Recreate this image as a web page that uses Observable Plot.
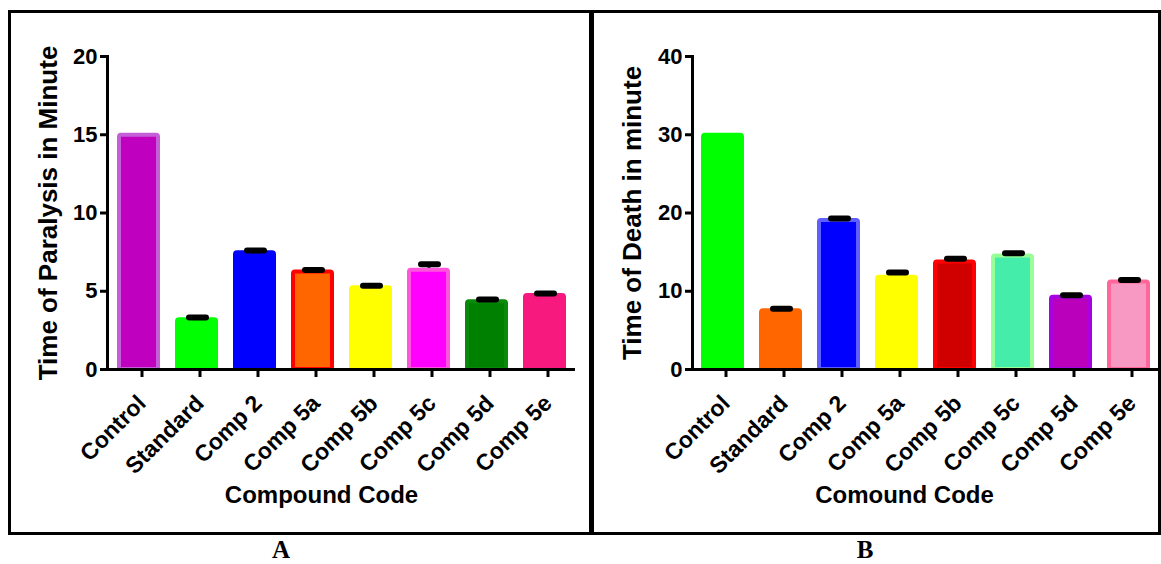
<!DOCTYPE html>
<html><head><meta charset="utf-8">
<script src="https://cdn.jsdelivr.net/npm/d3@7"></script>
<script src="https://cdn.jsdelivr.net/npm/@observablehq/plot@0.6"></script>
<style>
body{margin:0;background:#fff;}
#root{position:relative;width:1161px;height:564px;overflow:hidden;}
.box{position:absolute;border:3px solid #000;box-sizing:border-box;}
.plot{position:absolute;top:0;}
.lbl{position:absolute;width:60px;text-align:center;line-height:25px;font-family:'Liberation Serif','Times New Roman',serif;font-weight:bold;font-size:25px;color:#000;}
</style></head><body>
<div id="root">
 <div class="box" style="left:8px;top:10px;width:584px;height:525px"></div>
 <div class="box" style="left:591px;top:10px;width:570px;height:525px"></div>
 <div id="pa" class="plot" style="left:0px"></div>
 <div id="pb" class="plot" style="left:592px"></div>
 <div class="lbl" style="left:251px;top:537px">A</div>
 <div class="lbl" style="left:835px;top:537px">B</div>
</div>
<script>
const categories = ["Control","Standard","Comp 2","Comp 5a","Comp 5b","Comp 5c","Comp 5d","Comp 5e"];

const paralysisTime = [15.1, 3.3, 7.58, 6.35, 5.35, 6.47, 4.45, 4.85];
const paralysisErr = [null, 0.03, 0.02, 0, 0, 0.25, 0.03, 0];
const paralysisFill = ["#BF00BF","#00FF00","#0000FF","#FF6600","#FFFF00","#FF00FF","#008000","#F8197F"];
const paralysisStroke = ["#C45FD8","#00FF00","#0000FF","#FF0000","#FFFF00","#FF55DD","#0A8A0A","#F8197F"];
const paralysisTicks = [0, 5, 10, 15, 20];

const deathTime = [30.2, 7.75, 19.3, 12.05, 14.0, 14.75, 9.5, 11.45];
const deathErr = [null, 0, 0, 0.35, 0.15, 0.1, 0, 0];
const deathFill = ["#00FF00","#FF6600","#0000FF","#FFFF00","#D00000","#44EEAA","#BB00BB","#F899C4"];
const deathStroke = ["#00FF00","#FF6600","#5F5FFF","#FFFF00","#FF0000","#99FF99","#A800E0","#FF6699"];
const deathTicks = [0, 10, 20, 30, 40];

function panel({values, errs, fills, strokes, yMax, yTicks, yLabel, xLabel, width, marginLeft, marginRight, yTitleDx, xTitleDx}) {
  const data = categories.map((c, i) => ({name: c, value: values[i], err: errs[i], fill: fills[i], stroke: strokes[i]}));
  const withErr = data.filter(d => d.err !== null);
  return Plot.plot({
    width, height: 530, marginLeft, marginRight, marginTop: 56, marginBottom: 161,
    style: {fontFamily: "'Liberation Sans', Arial, sans-serif", fontWeight: "bold", color: "#000", background: "transparent", overflow: "visible"},
    x: {domain: categories, paddingInner: 0.26, paddingOuter: 0.13, axis: null},
    y: {domain: [0, yMax], axis: null},
    color: {type: "identity"},
    marks: [
      Plot.barY(data, {x: "name", y: "value", fill: "fill", stroke: "stroke", strokeWidth: 4, insetLeft: 2, insetRight: 2, insetTop: 2, rx: 2}),
      Plot.ruleX(withErr, {x: "name", y1: "value", y2: d => d.value + d.err, stroke: "#000", strokeWidth: 3}),
      Plot.tickY(withErr, {x: "name", y: d => d.value + d.err, stroke: "#000", strokeWidth: 6, strokeLinecap: "round", insetLeft: 14, insetRight: 12}),
      Plot.axisY({ticks: yTicks, tickSize: 7, tickPadding: 3, strokeWidth: 3, fontSize: 22, fontWeight: "bold", label: null, tickFormat: d => d}),
      Plot.axisX({tickSize: 8, strokeWidth: 3, tickRotate: -45, fontSize: 23, fontWeight: "bold", label: null, tickPadding: 22, dx: 3}),
      Plot.frame({anchor: "left", strokeWidth: 3}),
      Plot.ruleY([0], {strokeWidth: 3}),
      Plot.text([yLabel], {frameAnchor: "left", dx: yTitleDx, rotate: -90, textAnchor: "middle", lineAnchor: "middle", fontSize: 26, fontWeight: "bold"}),
      Plot.text([xLabel], {frameAnchor: "bottom", dx: xTitleDx, dy: 126, textAnchor: "middle", lineAnchor: "middle", fontSize: 24, fontWeight: "bold"})
    ]
  });
}

document.getElementById("pa").append(panel({
  values: paralysisTime, errs: paralysisErr, fills: paralysisFill, strokes: paralysisStroke,
  yMax: 20, yTicks: paralysisTicks, yLabel: "Time of Paralysis in Minute", xLabel: "Compound Code",
  width: 592, marginLeft: 107, marginRight: 17, yTitleDx: -59, xTitleDx: -20
}));
document.getElementById("pb").append(panel({
  values: deathTime, errs: deathErr, fills: deathFill, strokes: deathStroke,
  yMax: 40, yTicks: deathTicks, yLabel: "Time of Death in minute", xLabel: "Comound Code",
  width: 569, marginLeft: 100, marginRight: 3, yTitleDx: -60, xTitleDx: -21
}));
</script>
</body></html>
